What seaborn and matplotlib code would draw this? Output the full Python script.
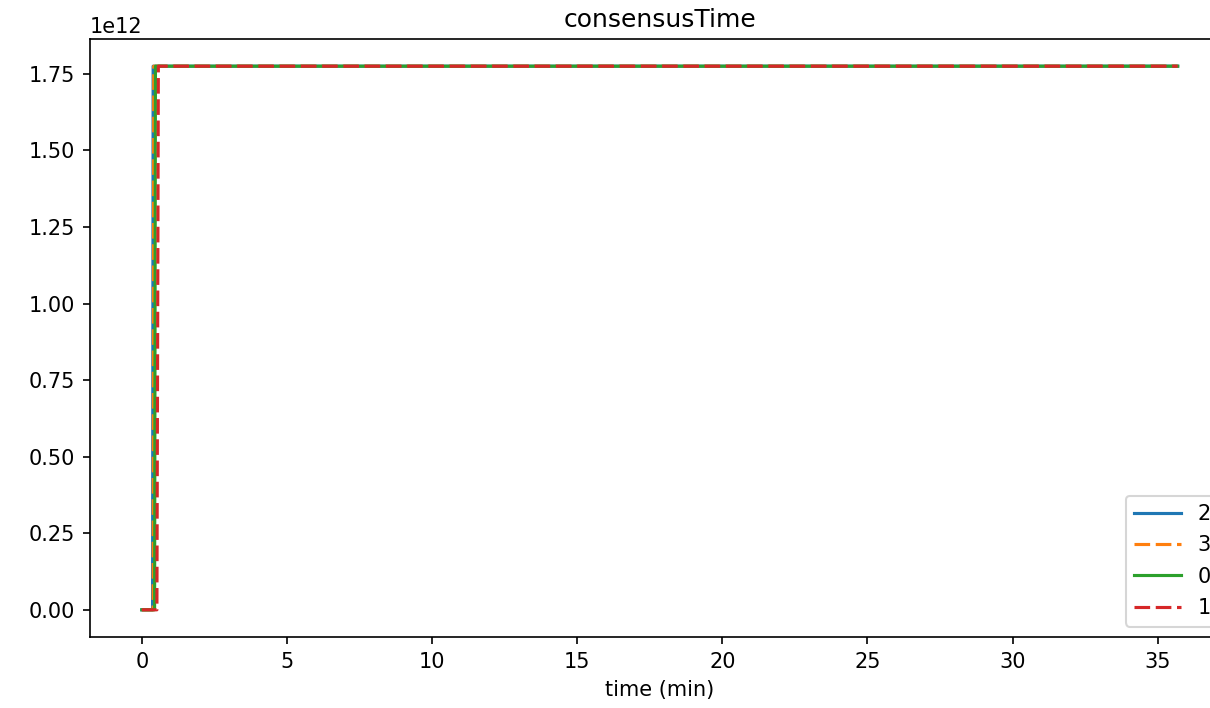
import pandas as pd
import numpy as np
import seaborn as sns
import matplotlib.pyplot as plt

# consensus time (ms timestamp) per node, sampled over time in minutes
nodes = ["2", "3", "0", "1"]
t_node2 = [0.0, 0.37, 0.39, 35.69]
t_node3 = [0.0, 0.39, 0.41, 35.69]
t_node0 = [0.0, 0.44, 0.47, 35.69]
t_node1 = [0.0, 0.52, 0.57, 35.69]
v_node2 = [0.0, 0.0, 1.775e12, 1.775e12]
v_node3 = [0.0, 0.0, 1.775e12, 1.775e12]
v_node0 = [0.0, 0.0, 1.775e12, 1.775e12]
v_node1 = [0.0, 0.0, 1.775e12, 1.775e12]

####

times = [t_node2, t_node3, t_node0, t_node1]
values = [v_node2, v_node3, v_node0, v_node1]
frames = []
for n, t, v in zip(nodes, times, values):
    frames.append(pd.DataFrame({"time": t, "value": v, "node": n}))
df = pd.concat(frames, ignore_index=True)

fig = plt.figure(figsize=(1210 / 150, 708 / 150), dpi=150)
ax = fig.add_axes([0.0744, 0.1003, 0.9417, 0.8446])

dash_map = {"2": "", "3": (5, 1.8), "0": "", "1": (5, 1.8)}
sns.lineplot(data=df, x="time", y="value", hue="node", style="node",
             hue_order=nodes, style_order=nodes, dashes=dash_map,
             palette=["tab:blue", "tab:orange", "tab:green", "tab:red"],
             linewidth=1.5, sort=False, estimator=None, ax=ax)

ax.set_title("consensusTime")
ax.set_xlabel("time (min)")
ax.set_ylabel("")
sns.move_legend(ax, "lower right", title=None, handlelength=2.25,
                labelspacing=0.55)

fig.savefig("out.png", dpi=150)
